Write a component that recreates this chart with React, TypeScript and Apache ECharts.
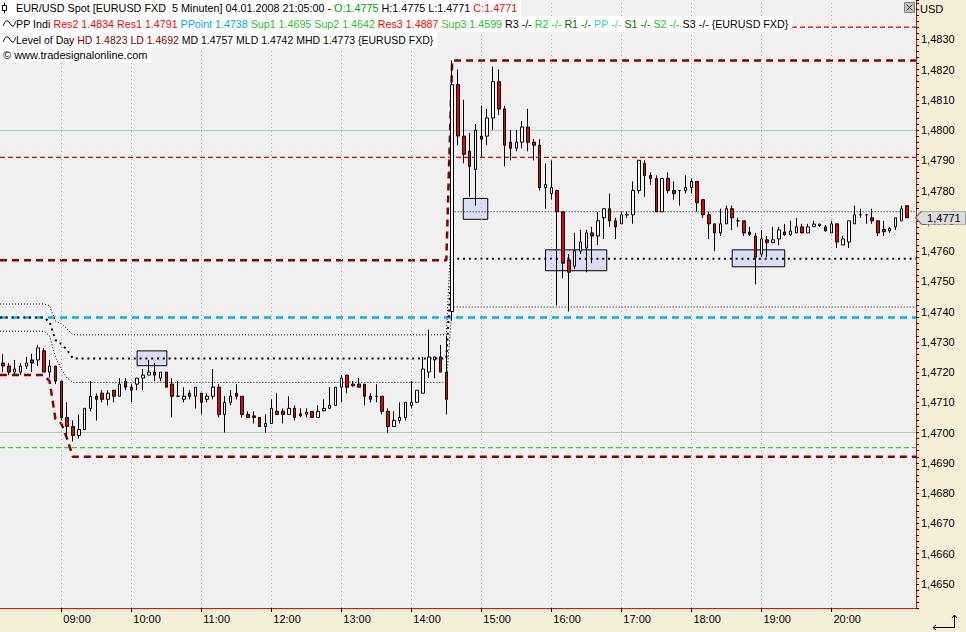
import React, { useEffect, useRef } from 'react';
import * as echarts from 'echarts';

const FONT = '"Liberation Sans", Arial, Helvetica, sans-serif';

// ---- time slots (5 minute bars) ----
const firstSlotMinutes = 8 * 60 + 10; // 08:10
const slotMinutes = 5;
const slotCount = 157; // 08:10 .. 21:10 (last slot empty)
const times: string[] = Array.from({ length: slotCount }, (_, i) => {
  const m = firstSlotMinutes + i * slotMinutes;
  return `${String(Math.floor(m / 60)).padStart(2, '0')}:${String(m % 60).padStart(2, '0')}`;
});
const hourLabels = ['09:00', '10:00', '11:00', '12:00', '13:00', '14:00', '15:00', '16:00', '17:00', '18:00', '19:00', '20:00'];

// ---- candles: [open, close, low, high] ----
const ohlc: [number, number, number, number][] = [
  [1.4723, 1.4722, 1.4720, 1.4726], [1.4722, 1.4720, 1.4719, 1.4723], [1.4720, 1.4721, 1.4719, 1.4724],
  [1.4720, 1.4722, 1.4719, 1.4723], [1.4722, 1.4723, 1.4721, 1.4725], [1.4724, 1.4723, 1.4720, 1.4726],
  [1.4724, 1.4728, 1.4722, 1.4729], [1.4727, 1.4720, 1.4720, 1.4728], [1.4720, 1.4722, 1.4718, 1.4724],
  [1.4722, 1.4717, 1.4716, 1.4722], [1.4717, 1.4705, 1.4704, 1.4717], [1.4705, 1.4702, 1.4698, 1.4710],
  [1.4702, 1.4699, 1.4697, 1.4704], [1.4699, 1.4701, 1.4698, 1.4706], [1.4701, 1.4708, 1.4701, 1.4708],
  [1.4708, 1.4712, 1.4707, 1.4717], [1.4712, 1.4711, 1.4704, 1.4713], [1.4713, 1.4711, 1.4710, 1.4714],
  [1.4711, 1.4713, 1.4709, 1.4714], [1.4714, 1.4712, 1.4710, 1.4714], [1.4712, 1.4716, 1.4712, 1.4718],
  [1.4717, 1.4715, 1.4714, 1.4718], [1.4715, 1.4714, 1.4710, 1.4716], [1.4716, 1.4718, 1.4714, 1.4718],
  [1.4718, 1.4719, 1.4714, 1.4721], [1.4719, 1.4720, 1.4719, 1.4724], [1.4720, 1.4719, 1.4717, 1.4723],
  [1.4718, 1.4720, 1.4717, 1.4720], [1.4720, 1.4715, 1.4715, 1.4720], [1.4716, 1.4712, 1.4705, 1.4718],
  [1.4712, 1.4712, 1.4712, 1.4717], [1.4711, 1.4712, 1.4710, 1.4715], [1.4713, 1.4712, 1.4711, 1.4714],
  [1.4712, 1.4715, 1.4708, 1.4715], [1.4713, 1.4710, 1.4706, 1.4713], [1.4711, 1.4712, 1.4710, 1.4713],
  [1.4712, 1.4715, 1.4711, 1.4721], [1.4715, 1.4706, 1.4705, 1.4716], [1.4706, 1.4710, 1.4700, 1.4712],
  [1.4710, 1.4712, 1.4709, 1.4714], [1.4713, 1.4712, 1.4711, 1.4716], [1.4712, 1.4706, 1.4705, 1.4712],
  [1.4706, 1.4705, 1.4705, 1.4707], [1.47055, 1.4705, 1.4703, 1.4707], [1.4705, 1.4702, 1.4702, 1.4705],
  [1.4702, 1.4703, 1.4700, 1.4706], [1.4703, 1.4708, 1.4703, 1.4711], [1.4707, 1.4706, 1.4706, 1.4713],
  [1.4707, 1.4706, 1.4703, 1.4708], [1.4706, 1.4708, 1.4706, 1.4712], [1.4708, 1.4705, 1.4704, 1.4709],
  [1.47062, 1.47055, 1.4705, 1.4708], [1.47061, 1.47067, 1.4705, 1.4708], [1.4707, 1.4705, 1.4705, 1.4707],
  [1.4705, 1.4707, 1.4705, 1.4709], [1.47072, 1.4708, 1.4707, 1.4711], [1.4708, 1.4709, 1.4708, 1.4715],
  [1.4709, 1.4715, 1.4709, 1.4715], [1.4715, 1.4718, 1.4710, 1.4719], [1.4719, 1.4715, 1.4713, 1.4719],
  [1.4716, 1.47155, 1.4715, 1.4717], [1.4716, 1.4715, 1.4715, 1.4718], [1.4716, 1.4712, 1.4709, 1.4716],
  [1.4712, 1.4711, 1.4710, 1.4713], [1.4712, 1.4712, 1.4710, 1.4716], [1.4712, 1.4707, 1.4706, 1.4712],
  [1.4707, 1.4702, 1.4700, 1.4708], [1.4702, 1.4704, 1.4702, 1.4707], [1.4704, 1.4705, 1.4703, 1.4710],
  [1.4705, 1.4710, 1.4704, 1.4710], [1.4709, 1.4710, 1.4708, 1.4717], [1.4710, 1.4714, 1.4710, 1.4714],
  [1.4713, 1.4721, 1.4713, 1.4725], [1.4720, 1.4725, 1.4718, 1.4734], [1.4724, 1.4725, 1.4718, 1.4725],
  [1.4725, 1.4720, 1.4720, 1.4729], [1.4720, 1.4711, 1.4706, 1.4732], [1.4740, 1.4815, 1.4737, 1.4823],
  [1.4815, 1.4798, 1.4795, 1.4820], [1.4798, 1.4792, 1.4789, 1.4810], [1.4793, 1.4788, 1.4778, 1.4799],
  [1.4787, 1.4800, 1.4775, 1.4802], [1.4798, 1.4797, 1.4791, 1.4808], [1.4798, 1.4804, 1.4795, 1.4807],
  [1.4804, 1.4816, 1.4800, 1.4821], [1.4816, 1.4807, 1.4805, 1.4820], [1.4807, 1.4795, 1.4788, 1.4808],
  [1.4796, 1.4794, 1.4790, 1.4800], [1.4794, 1.4796, 1.4793, 1.4800], [1.4796, 1.4801, 1.4794, 1.4803],
  [1.4801, 1.4796, 1.4793, 1.4807], [1.4796, 1.4795, 1.4790, 1.4797], [1.4795, 1.4781, 1.4780, 1.4797],
  [1.4781, 1.4782, 1.4774, 1.4789], [1.4779, 1.4781, 1.4777, 1.4790], [1.4780, 1.4773, 1.4742, 1.4780],
  [1.4773, 1.4756, 1.4751, 1.4773], [1.4757, 1.4753, 1.4740, 1.4759], [1.4755, 1.4760, 1.4754, 1.4766],
  [1.4760, 1.4763, 1.4759, 1.4767], [1.4761, 1.4766, 1.4753, 1.4767], [1.4766, 1.4765, 1.4756, 1.4768],
  [1.4765, 1.4770, 1.4762, 1.4773], [1.4771, 1.4774, 1.4764, 1.4774], [1.4774, 1.4770, 1.4768, 1.4779],
  [1.4770, 1.4768, 1.4764, 1.4771], [1.4769, 1.4772, 1.4769, 1.4773], [1.4772, 1.4772, 1.4771, 1.4773],
  [1.4772, 1.4780, 1.4769, 1.4783], [1.4780, 1.4790, 1.4779, 1.4790], [1.4789, 1.4785, 1.4778, 1.4790],
  [1.4785, 1.4784, 1.4782, 1.4786], [1.4784, 1.4773, 1.4773, 1.4785], [1.4773, 1.4784, 1.4773, 1.4784],
  [1.4784, 1.4780, 1.4779, 1.4786], [1.4780, 1.4779, 1.4777, 1.4783], [1.4780, 1.4780, 1.4775, 1.4780],
  [1.4780, 1.4781, 1.4779, 1.4785], [1.4781, 1.4783, 1.4779, 1.4784], [1.4783, 1.4776, 1.4773, 1.4783],
  [1.4777, 1.4772, 1.4771, 1.4777], [1.4772, 1.4769, 1.4764, 1.4773], [1.4769, 1.4766, 1.4760, 1.4769],
  [1.4766, 1.4769, 1.4765, 1.4774], [1.4769, 1.4774, 1.4769, 1.4775], [1.4774, 1.4771, 1.4767, 1.4775],
  [1.4770, 1.4770, 1.4768, 1.4771], [1.4770, 1.4766, 1.4765, 1.4770], [1.47663, 1.47655, 1.4765, 1.4768],
  [1.4765, 1.4758, 1.4749, 1.4766], [1.4759, 1.4764, 1.4758, 1.4767], [1.47637, 1.47628, 1.4758, 1.4765],
  [1.47628, 1.47637, 1.4763, 1.4768], [1.4764, 1.4767, 1.4762, 1.4768], [1.47663, 1.47654, 1.4765, 1.4769],
  [1.47654, 1.47666, 1.4765, 1.4770], [1.4766, 1.4768, 1.4766, 1.4771], [1.4768, 1.4766, 1.4766, 1.4769],
  [1.4766, 1.4768, 1.4766, 1.4769], [1.47681, 1.47689, 1.4768, 1.4770], [1.47684, 1.47689, 1.4768, 1.4769],
  [1.4768, 1.47667, 1.47664, 1.47686], [1.4766, 1.4769, 1.4766, 1.4770], [1.4769, 1.4763, 1.4761, 1.4769],
  [1.4762, 1.4764, 1.4762, 1.4765], [1.4763, 1.4770, 1.4761, 1.4770], [1.4769, 1.4772, 1.4769, 1.4775],
  [1.4772, 1.4772, 1.4771, 1.4774], [1.4772, 1.4772, 1.4769, 1.4772], [1.4771, 1.4770, 1.4769, 1.4774],
  [1.4770, 1.4766, 1.4765, 1.4770], [1.47671, 1.47664, 1.4765, 1.4770], [1.47667, 1.47675, 1.4766, 1.4768],
  [1.4768, 1.4771, 1.4767, 1.4771], [1.4770, 1.4774, 1.4770, 1.4775], [1.4775, 1.4771, 1.4771, 1.4775],
];

// ---- price axis ----
const priceMin = 1.4642;
const priceMax = 1.4843;
const priceStep = 0.0002;
const solidLevels = [1.465, 1.47, 1.475, 1.48];
const dottedLevels = [1.466, 1.467, 1.468, 1.469, 1.471, 1.472, 1.473, 1.474, 1.476, 1.477, 1.478, 1.479, 1.481, 1.482, 1.483];

// ---- PP Indi levels ----
const res2 = 1.4834;
const res1 = 1.4791;
const pPoint = 1.4738;
const sup1 = 1.4695;

// ---- Level of Day lines: [slot index, price] ----
const highOfDay: [number, number][] = [[-0.5, 1.4757], [76, 1.4757], [77, 1.4823], [156.5, 1.4823]];
const lowOfDay: [number, number][] = [[-0.5, 1.4719], [7, 1.4719], [8, 1.4717], [9, 1.47045], [10, 1.4703], [11, 1.4698], [12, 1.4692], [156.5, 1.4692]];
const midOfDay: [number, number][] = [[-0.5, 1.4738], [7, 1.4738], [8, 1.47366], [9, 1.47306], [10, 1.47293], [11, 1.47273], [12, 1.47245], [76, 1.47245], [77, 1.47575], [156.5, 1.47575]];
const midHighOfDay: [number, number][] = [[-0.5, 1.47425], [7, 1.47425], [8, 1.4742], [9, 1.47369], [10, 1.4736], [11, 1.47342], [12, 1.47323], [76, 1.47323], [77, 1.4773], [156.5, 1.4773]];
const midLowOfDay: [number, number][] = [[-0.5, 1.47335], [7, 1.47335], [8, 1.4732], [9, 1.4725], [10, 1.4721], [11, 1.4718], [12, 1.47166], [76, 1.47166], [77, 1.47415], [156.5, 1.47415]];

// ---- marked zones: [slotFrom, priceTop, slotTo, priceBottom] ----
const zones: [number, number, number, number][] = [
  [23.0, 1.4727, 28.1, 1.47221],
  [78.9, 1.47774, 83.1, 1.47705],
  [93.0, 1.47604, 103.5, 1.47535],
  [125.0, 1.47604, 134.0, 1.47548],
];

// ---- header texts ----
const K = '#000000';
const header1: [string, string][] = [
  ['EUR/USD Spot [EURUSD FXD  5 Minuten] 04.01.2008 21:05:00 - ', K],
  ['O:1.4775', '#00a000'],
  [' H:1.4775 L:1.4771 ', K],
  ['C:1.4771', '#ff0000'],
];
const header2: [string, string][] = [
  ['PP Indi ', K],
  ['Res2 1.4834 Res1 1.4791 ', '#ff0000'],
  ['PPoint 1.4738 ', '#00a8f0'],
  ['Sup1 1.4695 Sup2 1.4642 ', '#33b833'],
  ['Res3 1.4887 ', '#ff0000'],
  ['Sup3 1.4599 ', '#33b833'],
  ['R3 -/- ', K],
  ['R2 -/- ', '#22cc22'],
  ['R1 -/- ', '#006e00'],
  ['PP -/- ', '#33d0d0'],
  ['S1 -/- ', '#006e00'],
  ['S2 -/- ', '#22bb22'],
  ['S3 -/- {EURUSD FXD}', K],
];
const header3: [string, string][] = [
  ['Level of Day ', K],
  ['HD 1.4823 LD 1.4692', '#800000'],
  [' MD 1.4757 MLD 1.4742 MHD 1.4773 {EURUSD FXD}', K],
];
const header4: [string, string][] = [['\u00a9 www.tradesignalonline.com', K]];

function richOf(segs: [string, string][], fontSize: number) {
  const rich: Record<string, any> = {};
  let text = '';
  segs.forEach(([t, c], i) => {
    if (c === K) {
      text += t;
    } else {
      rich['s' + i] = { fill: c, fontSize, fontFamily: FONT, lineHeight: 12 };
      text += `{s${i}|${t}}`;
    }
  });
  return { text, rich };
}

function headerText(segs: [string, string][], y: number, padLeft: number, fontSize: number) {
  const r = richOf(segs, fontSize);
  return {
    type: 'text',
    x: 0,
    y,
    z: 100,
    silent: true,
    style: {
      text: r.text,
      rich: r.rich,
      fill: '#000',
      fontSize,
      fontFamily: FONT,
      lineHeight: 12,
      backgroundColor: '#ffffff',
      padding: [2, 4, 2, padLeft],
      align: 'left',
      verticalAlign: 'top',
    },
  };
}

const fmtPrice = (v: number) => v.toFixed(4).replace('.', ',');
const lastClose = ohlc[ohlc.length - 1][1];
const hourIndices = hourLabels.map((h) => times.indexOf(h));
const edgeL = -0.5;
const edgeR = slotCount - 0.5;
const flat = (v: number): [number, number][] => [[edgeL, v], [edgeR, v]];

function levelLine(data: [number, number][], color: string, width: number, type: any, z: number) {
  return {
    type: 'line',
    xAxisIndex: 1,
    yAxisIndex: 0,
    data,
    symbol: 'none',
    showSymbol: false,
    silent: true,
    z,
    lineStyle: { color, width, type, cap: 'butt' },
  };
}

function markLineHolder(z: number, markLine: any) {
  return {
    type: 'line',
    xAxisIndex: 1,
    yAxisIndex: 0,
    data: [[0, 1.47]],
    symbol: 'none',
    showSymbol: false,
    silent: true,
    lineStyle: { opacity: 0 },
    z,
    markLine: { silent: true, symbol: ['none', 'none'], label: { show: false }, animation: false, ...markLine },
  };
}

const isHour = (_i: number, v: string) => hourLabels.indexOf(v) >= 0;

const option: any = {
  animation: false,
  backgroundColor: '#f6efd8',
  grid: {
    left: 0,
    right: 50,
    top: 0,
    bottom: 24,
    show: true,
    backgroundColor: '#f0f0f0',
    borderWidth: 0,
    containLabel: false,
    outerBoundsMode: 'none',
  },
  xAxis: [
    {
      type: 'category',
      data: times,
      boundaryGap: true,
      axisLine: { show: true, onZero: false, lineStyle: { color: '#ff0000', width: 1 } },
      axisTick: { show: true, alignWithLabel: true, interval: isHour, length: 4, lineStyle: { color: '#000' } },
      axisLabel: {
        interval: isHour,
        align: 'left',
        margin: 5,
        padding: [0, 0, 0, 2],
        color: '#000',
        fontSize: 11,
        fontFamily: FONT,
      },
      splitLine: { show: false },
    },
    { type: 'value', min: edgeL, max: edgeR, show: false },
  ],
  yAxis: {
    type: 'value',
    position: 'right',
    min: priceMin,
    max: priceMax,
    interval: priceStep,
    axisLine: { show: true, onZero: false, lineStyle: { color: '#ff0000', width: 1 } },
    axisTick: { show: true, length: 3, lineStyle: { color: '#000' } },
    axisLabel: {
      margin: 5,
      color: '#000',
      fontSize: 11,
      fontFamily: FONT,
      formatter: (v: number) => {
        const k = Math.round(v * 10000);
        if (k % 10 !== 0 || k > 14835) return '';
        return fmtPrice(k / 10000);
      },
    },
    splitLine: { show: false },
  },
  series: [
    markLineHolder(1, {
      lineStyle: { color: '#a9c9a9', width: 1, type: [1, 4] },
      data: dottedLevels.map((v) => ({ yAxis: v })),
    }),
    markLineHolder(1, {
      lineStyle: { color: '#b2c8b2', width: 1, type: 'solid' },
      data: solidLevels.map((v) => ({ yAxis: v })),
    }),
    markLineHolder(1, {
      lineStyle: { color: '#a8a8a8', width: 1, type: [1, 3] },
      data: hourIndices.map((i) => ({ xAxis: i })),
    }),
    {
      type: 'line',
      xAxisIndex: 1,
      yAxisIndex: 0,
      data: [[0, 1.47]],
      symbol: 'none',
      showSymbol: false,
      silent: true,
      lineStyle: { opacity: 0 },
      z: 2,
      markArea: {
        silent: true,
        label: { show: false },
        itemStyle: { color: '#dcdcf3', borderColor: '#000', borderWidth: 1 },
        data: zones.map(([x0, y0, x1, y1]) => [{ coord: [x0, y0] }, { coord: [x1, y1] }]),
      },
    },
    levelLine(flat(pPoint), '#00b4f0', 2.5, [7, 5], 3),
    levelLine(flat(res1), '#e00000', 1.3, [5, 3], 3),
    levelLine(flat(res2), '#e00000', 1.3, [5, 3], 3),
    levelLine(flat(sup1), '#3cc83c', 1.3, [5, 3], 3),
    levelLine(highOfDay, '#8b0000', 2.5, [7, 5], 3),
    levelLine(lowOfDay, '#8b0000', 2.5, [7, 5], 3),
    levelLine(midOfDay, '#000000', 2, [2, 3.8], 4),
    levelLine(midHighOfDay, '#000000', 1, [1, 2], 4),
    levelLine(midLowOfDay, '#000000', 1, [1, 2], 4),
    {
      type: 'candlestick',
      xAxisIndex: 0,
      yAxisIndex: 0,
      data: ohlc,
      barWidth: 3,
      silent: true,
      z: 5,
      itemStyle: {
        color: '#ffffff',
        color0: '#ee0000',
        borderColor: '#000000',
        borderColor0: '#000000',
        borderColorDoji: '#000000',
        borderWidth: 1,
      },
    },
    {
      type: 'line',
      xAxisIndex: 1,
      yAxisIndex: 0,
      data: [[0, lastClose]],
      symbol: 'none',
      showSymbol: false,
      silent: true,
      lineStyle: { opacity: 0 },
      z: 6,
      markPoint: {
        silent: true,
        symbol: 'path://M0,6L6,0L50,0L50,12L6,12Z',
        symbolSize: [51, 13],
        symbolOffset: ['50%', 0],
        itemStyle: { color: '#dcdcdc', borderColor: '#7a7a7a', borderWidth: 1 },
        label: {
          show: true,
          position: 'inside',
          offset: [3, 0],
          color: '#000',
          fontSize: 11,
          fontFamily: FONT,
          formatter: () => fmtPrice(lastClose),
        },
        data: [{ coord: [edgeR - 0.1, lastClose] }],
      },
    },
  ],
  graphic: {
    elements: [
      headerText(header1, 0, 16, 10.8),
      headerText(header2, 16, 16, 10.7),
      headerText(header3, 32, 16, 10.5),
      headerText(header4, 47, 3, 11),
      // candle icon (line 1)
      { type: 'line', z: 101, silent: true, shape: { x1: 4.5, y1: 2.5, x2: 4.5, y2: 13.5 }, style: { stroke: '#000', lineWidth: 1 } },
      { type: 'rect', z: 102, silent: true, shape: { x: 2.5, y: 5.5, width: 4, height: 5 }, style: { fill: '#fff', stroke: '#000', lineWidth: 1 } },
      // wave icons (lines 2 and 3)
      ...[16, 32].map((top) => ({
        type: 'polyline',
        z: 101,
        silent: true,
        shape: { points: [[3, top + 10], [5.5, top + 5.5], [8, top + 5], [10, top + 7.5], [12, top + 10], [14, top + 9.5], [15.5, top + 5.5]], smooth: 0.3 },
        style: { stroke: '#000', lineWidth: 1, fill: 'none' },
      })),
      // currency label
      { type: 'text', x: 920, y: 9, z: 100, silent: true, style: { text: 'USD', fill: '#000', fontSize: 11, fontFamily: FONT, verticalAlign: 'middle', align: 'left' } },
      // close button
      { type: 'rect', z: 100, silent: true, shape: { x: 904.5, y: 2.5, width: 10, height: 10 }, style: { fill: '#c4c4c4', stroke: '#808080', lineWidth: 1 } },
      { type: 'line', z: 101, silent: true, shape: { x1: 906.5, y1: 4.5, x2: 912.5, y2: 10.5 }, style: { stroke: '#303030', lineWidth: 1 } },
      { type: 'line', z: 101, silent: true, shape: { x1: 912.5, y1: 4.5, x2: 906.5, y2: 10.5 }, style: { stroke: '#303030', lineWidth: 1 } },
      // corner arrow
      { type: 'polyline', z: 100, silent: true, shape: { points: [[933, 627.5], [954.5, 627.5], [954.5, 615]] }, style: { stroke: '#000', lineWidth: 1, fill: 'none' } },
      { type: 'polyline', z: 100, silent: true, shape: { points: [[936, 625], [933, 627.5], [936, 630]] }, style: { stroke: '#000', lineWidth: 1, fill: 'none' } },
      { type: 'polyline', z: 100, silent: true, shape: { points: [[952, 618], [954.5, 615], [957, 618]] }, style: { stroke: '#000', lineWidth: 1, fill: 'none' } },
    ],
  },
};

export default function App() {
  const ref = useRef<HTMLDivElement>(null);
  useEffect(() => {
    if (!ref.current) return;
    const chart = echarts.init(ref.current, null, { renderer: 'svg' });
    chart.setOption(option);
    return () => chart.dispose();
  }, []);
  return <div ref={ref} style={{ position: 'absolute', left: 0, top: 0, width: 966, height: 632 }} />;
}
